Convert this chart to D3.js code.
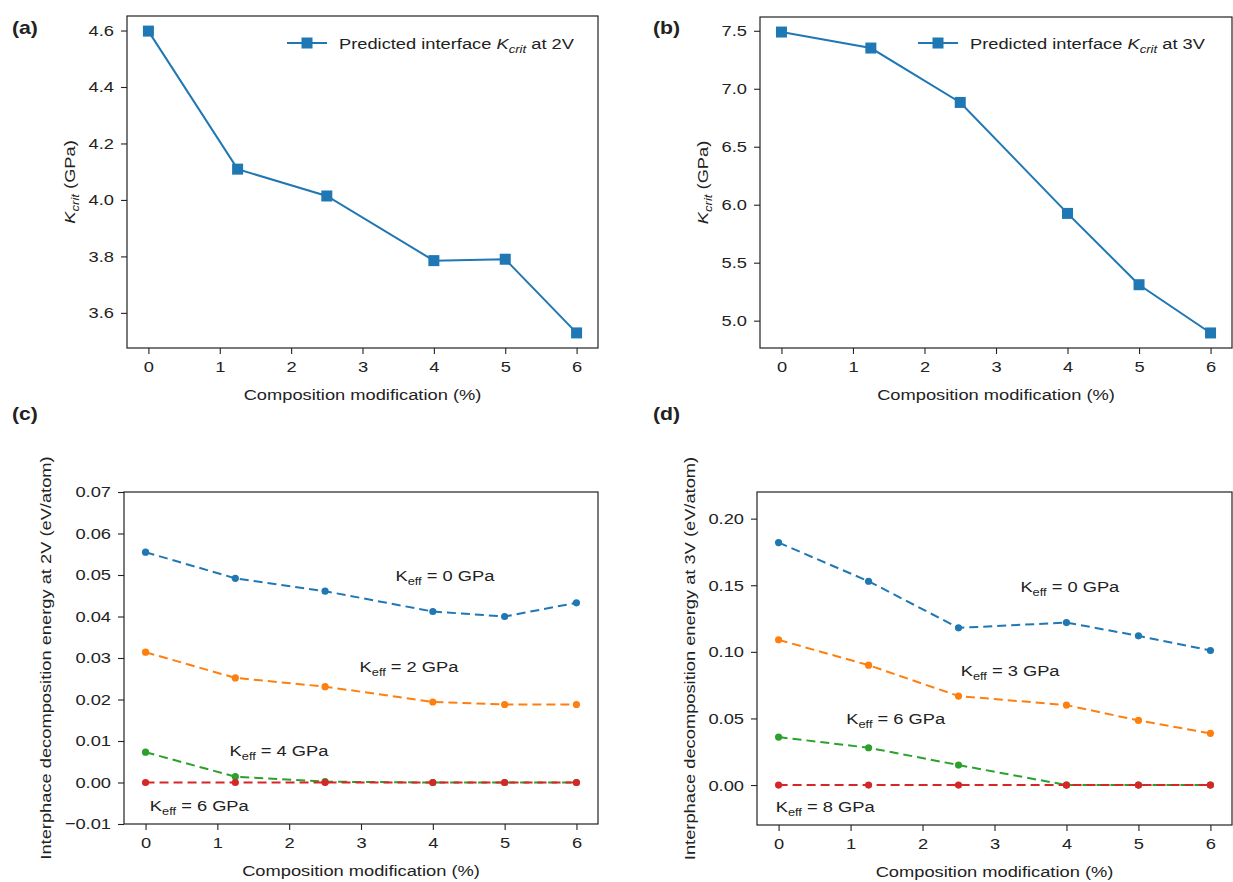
<!DOCTYPE html>
<html>
<head>
<meta charset="utf-8">
<script src="https://cdn.jsdelivr.net/npm/d3@7"></script>
<style>
  body { margin: 0; background: #fff; }
  svg text { font-family: "Liberation Sans", Arial, sans-serif; fill: #222; }
</style>
</head>
<body>
<script>
// composition modification (%) shared by all panels
var xVals = [0, 1.25, 2.5, 4, 5, 6]
var xTicks = [0, 1, 2, 3, 4, 5, 6]

// (a) and (b) predicted K_crit
var kcrit2V = [4.598, 4.109, 4.014, 3.785, 3.790, 3.529]
var kcrit3V = [7.489, 7.351, 6.882, 5.925, 5.310, 4.894]

// (c) interphase decomposition energy at 2V
var e2V_K0 = [0.0555, 0.0492, 0.0461, 0.0412, 0.0400, 0.0433]
var e2V_K2 = [0.0314, 0.0252, 0.0231, 0.0194, 0.0188, 0.0188]
var e2V_K4 = [0.0073, 0.0014, 0.0002, 0, 0, 0]
var e2V_K6 = [0, 0, 0, 0, 0, 0]

// (d) interphase decomposition energy at 3V
var e3V_K0 = [0.182, 0.153, 0.118, 0.122, 0.112, 0.101]
var e3V_K3 = [0.109, 0.090, 0.0668, 0.060, 0.0485, 0.0388]
var e3V_K6 = [0.036, 0.028, 0.015, 0, 0, 0]
var e3V_K8 = [0, 0, 0, 0, 0, 0]

var yTicksA = [3.6, 3.8, 4.0, 4.2, 4.4, 4.6]
var yTicksB = [5.0, 5.5, 6.0, 6.5, 7.0, 7.5]
var yTicksC = [-0.01, 0, 0.01, 0.02, 0.03, 0.04, 0.05, 0.06, 0.07]
var yTicksD = [0, 0.05, 0.10, 0.15, 0.20]

var kLabels2V = ["0", "2", "4", "6"]
var kLabels3V = ["0", "3", "6", "8"]

var colors = ["#1f77b4", "#ff7f0e", "#2ca02c", "#d62728"]

// the figure's lettering is a bit wider than Liberation Sans
var SX = 1.18
var FS = 15.5

var svg = d3.select("body").append("svg")
  .attr("width", 1233)
  .attr("height", 882)

function padDomain(vals) {
  var lo = d3.min(vals), hi = d3.max(vals), m = (hi - lo) * 0.05
  return [lo - m, hi + m]
}

function fmtMinus(f) {
  return function(d){ return f(d).replace("-", "\u2212") }
}

// text placed at x,y (optionally rotated) and widened along its own baseline
function addText(x, y, rot) {
  return svg.append("text")
    .attr("transform", "translate(" + x + "," + y + ")" + (rot ? " rotate(" + rot + ")" : "") + " scale(" + SX + ",1)")
    .attr("font-size", FS)
}

function makePanel(p) {
  var x = d3.scaleLinear().domain([-0.3, 6.3]).range([p.left, p.right])
  var y = d3.scaleLinear().domain(p.yDomain).range([p.bottom, p.top])

  var gx = svg.append("g")
    .attr("transform", "translate(0," + p.bottom + ")")
    .call(d3.axisBottom(x).tickValues(xTicks).tickSize(6).tickPadding(7).tickFormat(d3.format("d")))
  var gy = svg.append("g")
    .attr("transform", "translate(" + p.left + ",0)")
    .call(d3.axisLeft(y).tickValues(p.yTicks).tickSize(6).tickPadding(7).tickFormat(fmtMinus(d3.format(p.fmt))))
  ;[gx, gy].forEach(function(g){
    g.select(".domain").remove()
    g.selectAll(".tick line").attr("stroke", "#222").attr("stroke-width", 1.1)
    g.selectAll(".tick text")
      .attr("font-size", FS).style("fill", "#222")
      .attr("font-family", "Liberation Sans, Arial, sans-serif")
      .attr("x", function(){ return (+d3.select(this).attr("x") || 0) / SX })
      .attr("transform", "scale(" + SX + ",1)")
  })

  svg.append("rect")
    .attr("x", p.left).attr("y", p.top)
    .attr("width", p.right - p.left).attr("height", p.bottom - p.top)
    .attr("fill", "none").attr("stroke", "#222").attr("stroke-width", 1.2)

  addText((p.left + p.right) / 2, p.bottom + 52)
    .attr("text-anchor", "middle")
    .text("Composition modification (%)")

  addText(p.panelX, p.panelY)
    .attr("font-size", 18).attr("font-weight", "bold")
    .text(p.tag)

  var line = d3.line()
    .x(function(d, i){ return x(xVals[i]) })
    .y(function(d){ return y(d) })

  p.series.forEach(function(s, k){
    var col = colors[k]
    svg.append("path")
      .datum(s)
      .attr("d", line)
      .attr("fill", "none")
      .attr("stroke", col)
      .attr("stroke-width", 2)
      .attr("stroke-dasharray", p.dashed ? "9,5" : null)
    if (p.dashed) {
      svg.selectAll(null).data(s).enter().append("circle")
        .attr("cx", function(d, i){ return x(xVals[i]) })
        .attr("cy", function(d){ return y(d) })
        .attr("r", 3.6)
        .attr("fill", col)
    } else {
      svg.selectAll(null).data(s).enter().append("rect")
        .attr("x", function(d, i){ return x(xVals[i]) - 5.5 })
        .attr("y", function(d){ return y(d) - 5.5 })
        .attr("width", 11).attr("height", 11)
        .attr("fill", col)
    }
  })

  return { x: x, y: y }
}

function kcritLabel(sel) {
  sel.append("tspan").attr("font-style", "italic").text("K")
  sel.append("tspan").attr("font-style", "italic").attr("font-size", "0.72em").attr("dy", 4).text("crit")
}

function yLabelK(p) {
  var t = addText(p.yLabelX, (p.top + p.bottom) / 2, -90)
    .attr("text-anchor", "middle")
  kcritLabel(t)
  t.append("tspan").attr("dy", -4).text(" (GPa)")
}

function legend(p, text) {
  svg.append("line")
    .attr("x1", p.legX).attr("x2", p.legX + 40)
    .attr("y1", p.legY).attr("y2", p.legY)
    .attr("stroke", colors[0]).attr("stroke-width", 2)
  svg.append("rect")
    .attr("x", p.legX + 14.5).attr("y", p.legY - 5.5)
    .attr("width", 11).attr("height", 11).attr("fill", colors[0])
  var t = addText(p.legX + 52, p.legY + 5.5)
  t.append("tspan").text("Predicted interface ")
  kcritLabel(t)
  t.append("tspan").attr("dy", -4).text(" at " + text)
}

function keffLabel(sc, xv, yv, val) {
  var t = addText(sc.x(xv), sc.y(yv))
  t.append("tspan").text("K")
  t.append("tspan").attr("font-size", "0.7em").attr("dy", 4).text("eff")
  t.append("tspan").attr("dy", -4).text(" = " + val + " GPa")
}

var pA = { tag: "(a)", panelX: 12, panelY: 34, left: 127, right: 598, top: 16, bottom: 348,
  yDomain: padDomain(kcrit2V), yTicks: yTicksA, fmt: ".1f", series: [kcrit2V], dashed: false,
  yLabelX: 75, legX: 287, legY: 43 }
var pB = { tag: "(b)", panelX: 653, panelY: 34, left: 760, right: 1232, top: 17, bottom: 348,
  yDomain: padDomain(kcrit3V), yTicks: yTicksB, fmt: ".1f", series: [kcrit3V], dashed: false,
  yLabelX: 708, legX: 918, legY: 43 }
var pC = { tag: "(c)", panelX: 12, panelY: 420, left: 124, right: 598, top: 492, bottom: 824,
  yDomain: [-0.01, 0.07], yTicks: yTicksC, fmt: ".2f", series: [e2V_K0, e2V_K2, e2V_K4, e2V_K6], dashed: true,
  yLabelX: 51 }
var pD = { tag: "(d)", panelX: 653, panelY: 420, left: 757, right: 1232, top: 492, bottom: 825,
  yDomain: [-0.03, 0.22], yTicks: yTicksD, fmt: ".2f", series: [e3V_K0, e3V_K3, e3V_K6, e3V_K8], dashed: true,
  yLabelX: 695 }

makePanel(pA)
yLabelK(pA)
legend(pA, "2V")

makePanel(pB)
yLabelK(pB)
legend(pB, "3V")

var sc = makePanel(pC)
addText(pC.yLabelX, (pC.top + pC.bottom) / 2, -90)
  .attr("text-anchor", "middle")
  .text("Interphace decomposition energy at 2V (eV/atom)")
var posC = [[3.48, 0.0485], [2.98, 0.0267], [1.17, 0.0063], [0.06, -0.0069]]
kLabels2V.forEach(function(v, i){ keffLabel(sc, posC[i][0], posC[i][1], v) })

var sd = makePanel(pD)
addText(pD.yLabelX, (pD.top + pD.bottom) / 2, -90)
  .attr("text-anchor", "middle")
  .text("Interphace decomposition energy at 3V (eV/atom)")
var posD = [[3.36, 0.145], [2.53, 0.082], [0.94, 0.0458], [-0.04, -0.020]]
kLabels3V.forEach(function(v, i){ keffLabel(sd, posD[i][0], posD[i][1], v) })
</script>
</body>
</html>
